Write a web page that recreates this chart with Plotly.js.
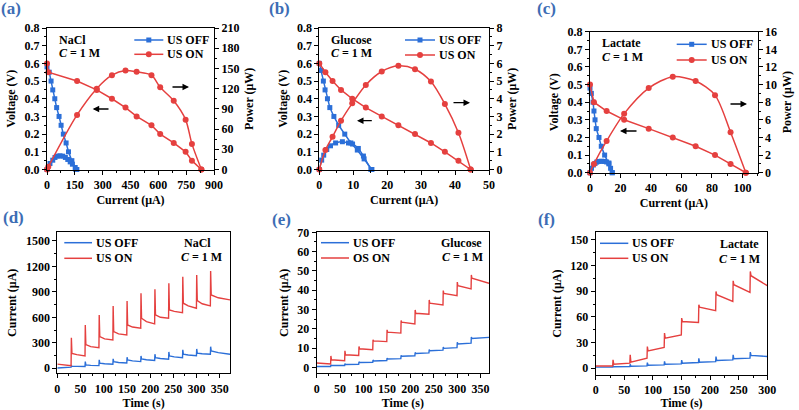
<!DOCTYPE html>
<html>
<head>
<meta charset="utf-8">
<script src="https://cdn.plot.ly/plotly-3.0.1.min.js"></script>
<style>
  html, body { margin: 0; padding: 0; background: #fff; }
  #chart { width: 799px; height: 410px; }
</style>
</head>
<body>
<div id="chart"></div>
<script>
// ---------- Polarization data: current (μA), voltage (V), power (μW) ----------
// (a) NaCl
const naclOffI  = [0, 12, 22, 31, 42, 52, 65, 76, 88, 103, 116, 134, 155];
const naclOffV  = [0.58, 0.55, 0.50, 0.45, 0.40, 0.35, 0.30, 0.25, 0.20, 0.15, 0.10, 0.05, 0.00];
const naclOffPI = [0, 16, 31, 43, 56, 70, 85, 99, 112, 125, 137, 152, 161];
const naclOffP  = [0, 8.9, 13.8, 17.9, 19.8, 20.3, 19.8, 17.9, 14.9, 11.3, 7.9, 3.0, 0];
const naclOnI   = [0, 7, 162, 268, 350, 423, 483, 563, 610, 683, 747, 781, 832];
const naclOnV   = [0.60, 0.55, 0.50, 0.45, 0.40, 0.35, 0.30, 0.25, 0.20, 0.15, 0.10, 0.05, 0.00];
const naclOnP   = [0, 3.9, 81, 120, 140, 147, 145, 140, 122, 102, 74, 38, 0];

// (b) Glucose
const gluOffI  = [0, 0.5, 1.2, 1.7, 2.4, 3.1, 4.3, 5.7, 7.5, 9.3, 11.2, 13.2, 15.5];
const gluOffV  = [0.60, 0.56, 0.50, 0.45, 0.40, 0.35, 0.30, 0.25, 0.20, 0.15, 0.11, 0.06, 0.00];
const gluOffPI = [0, 0.7, 1.3, 2.2, 3.3, 4.8, 6.8, 8.6, 9.8, 11.5, 13.0, 15.2];
const gluOffP  = [0, 0.53, 0.81, 1.13, 1.34, 1.50, 1.57, 1.50, 1.44, 1.19, 0.76, 0];
const gluOnI   = [0, 1.8, 3.9, 6.4, 9.7, 13.7, 18.4, 23.3, 28.2, 32.9, 37.0, 41.0, 44.6];
const gluOnV   = [0.60, 0.55, 0.50, 0.45, 0.40, 0.35, 0.30, 0.25, 0.20, 0.15, 0.10, 0.05, 0.00];
const gluOnP   = [0, 1.10, 1.85, 2.76, 3.74, 4.78, 5.54, 5.86, 5.67, 4.97, 3.70, 2.08, 0];

// (c) Lactate
const lacOffI  = [0, 0.9, 2.0, 2.6, 3.3, 4.1, 5.9, 7.4, 9.6, 12.4, 14.6];
const lacOffV  = [0.48, 0.45, 0.40, 0.35, 0.30, 0.25, 0.20, 0.15, 0.10, 0.05, 0.00];
const lacOffPI = [0, 1.0, 2.2, 3.3, 4.4, 6.0, 7.6, 9.2, 10.9, 12.4, 13.5, 14.6];
const lacOffP  = [0, 0.50, 0.87, 1.05, 1.20, 1.28, 1.30, 1.28, 1.22, 1.10, 0.50, 0];
const lacOnI   = [0, 2.6, 10.9, 22.4, 38.5, 54.3, 69.3, 82.0, 92.2, 102.2];
const lacOnV   = [0.50, 0.40, 0.35, 0.30, 0.25, 0.20, 0.15, 0.10, 0.05, 0.00];
const lacOnP   = [0, 1.0, 3.6, 6.7, 9.6, 10.9, 10.4, 8.8, 4.6, 0];

// ---------- Current response to successive additions (every 30 s) ----------
// per interval: spike at the addition, level just after, mid-interval level, level before next addition
const naclT       = [0, 30, 60, 90, 120, 150, 180, 210, 240, 270, 300, 330];
const naclOnPeak  = [null, 360, 510, 628, 733, 793, 883, 930, 1001, 1079, 1099, 1146];
const naclOnStart = [48, 175, 278, 372, 431, 510, 589, 628, 687, 766, 796, 863];
const naclOnMid   = [40, 160, 255, 345, 405, 485, 550, 600, 670, 735, 760, 830];
const naclOnEnd   = [30, 145, 243, 333, 392, 471, 522, 589, 655, 707, 734, 805];
const naclOffPeak  = [null, 30, 78, 98, 110, 130, 145, 165, 192, 216, 227, 254];
const naclOffStart = [2, 25, 39, 59, 78, 98, 110, 125, 145, 165, 177, 204];
const naclOffMid   = [8, 22, 34, 52, 68, 86, 99, 114, 134, 155, 170, 183];
const naclOffEnd   = [12, 20, 31, 47, 62, 78, 90, 106, 125, 148, 165, 165];

const gluT        = [0, 30, 60, 90, 120, 150, 180, 210, 240, 270, 300, 330];
const gluOnPeak   = [null, 6.0, 8.6, 10.9, 14.3, 19.5, 24.3, 29.8, 35.0, 39.8, 44.2, 47.9];
const gluOnStart  = [2.3, 4.0, 6.6, 9.7, 13.8, 18.3, 23.5, 28.1, 33.3, 38.4, 42.3, 46.2];
const gluOnEnd    = [1.8, 3.5, 6.2, 9.2, 13.4, 17.8, 22.6, 27.6, 32.4, 37.2, 40.7, 43.6];
const gluOffPeak  = [null, 1.3, 2.0, 3.0, 3.9, 4.9, 6.3, 7.8, 9.3, 10.6, 13.1, 15.8];
const gluOffStart = [0.5, 1.0, 1.6, 2.6, 3.4, 4.4, 5.8, 7.3, 8.7, 9.9, 12.2, 15.0];
const gluOffEnd   = [0.5, 1.0, 1.7, 2.7, 3.6, 4.6, 6.1, 7.6, 9.0, 10.3, 12.6, 15.6];

const lacT        = [0, 30, 60, 90, 120, 150, 180, 210, 240, 270];
const lacOnPeak   = [null, 9.7, 15.6, 25.3, 41.0, 58.6, 74.2, 89.8, 102.3, 113.2];
const lacOnStart  = [2.5, 4.7, 7.0, 20.3, 35.2, 54.6, 71.5, 85.9, 97.7, 108.2];
const lacOnEnd    = [2.5, 5.9, 11.7, 24.2, 39.0, 53.5, 67.2, 78.1, 88.6, 96.5];
const lacOffPeak  = [null, 3.0, 4.5, 6.5, 8.0, 9.5, 11.5, 13.5, 15.5, 18.8];
const lacOffStart = [1.2, 1.6, 2.3, 3.4, 4.5, 5.8, 7.0, 9.0, 11.0, 15.0];
const lacOffEnd   = [1.2, 1.9, 2.7, 3.9, 5.0, 6.6, 7.7, 9.7, 11.7, 13.6];

// ---------- styling ----------
const FONT = 'Liberation Serif, Times New Roman, serif';
const BLUE = '#2b6fd8';
const RED = '#e5403f';
const LABEL_BLUE = '#3d6db5';
const W = 799, H = 410;
const fx = p => p / W;
const fy = p => 1 - p / H;
const bold = (size, color) => ({family: FONT, size: size, color: color || '#000', weight: 'bold'});

// Turn per-interval levels into a polyline (vertical spike at each addition time)
function stepSeries(times, tEnd, peak, start, mid, end) {
  const x = [], y = [];
  for (let k = 0; k < times.length; k++) {
    const t0 = times[k];
    const t1 = k + 1 < times.length ? times[k + 1] : tEnd;
    if (peak[k] === null) { x.push(t0); y.push(start[k]); }
    else { x.push(t0 + 0.3, t0 + 1.5); y.push(peak[k], start[k]); }
    if (mid) { x.push(t0 + (t1 - t0) * 0.4); y.push(mid[k]); }
    x.push(k + 1 < times.length ? t1 - 0.3 : t1); y.push(end[k]);
  }
  return {x, y};
}

const traces = [];
function ivPanel(xa, ya, ya2, offI, offV, offPI, offP, onI, onV, onP) {
  const common = {xaxis: xa, showlegend: false, mode: 'lines+markers', cliponaxis: false};
  traces.push(Object.assign({x: offI, y: offV, yaxis: ya, name: 'US OFF',
    line: {color: BLUE, width: 1.5}, marker: {symbol: 'square', size: 5, color: BLUE}}, common));
  traces.push(Object.assign({x: onI, y: onV, yaxis: ya, name: 'US ON',
    line: {color: RED, width: 1.5}, marker: {symbol: 'circle', size: 6, color: RED}}, common));
  traces.push(Object.assign({x: offPI, y: offP, yaxis: ya2, name: 'US OFF',
    line: {color: BLUE, width: 1.5, shape: 'spline', smoothing: 0.8},
    marker: {symbol: 'square', size: 5, color: BLUE}}, common));
  traces.push(Object.assign({x: onI, y: onP, yaxis: ya2, name: 'US ON',
    line: {color: RED, width: 1.5, shape: 'spline', smoothing: 0.8},
    marker: {symbol: 'circle', size: 6, color: RED}}, common));
}
ivPanel('x', 'y', 'y2', naclOffI, naclOffV, naclOffPI, naclOffP, naclOnI, naclOnV, naclOnP);
ivPanel('x2', 'y3', 'y4', gluOffI, gluOffV, gluOffPI, gluOffP, gluOnI, gluOnV, gluOnP);
ivPanel('x3', 'y5', 'y6', lacOffI, lacOffV, lacOffPI, lacOffP, lacOnI, lacOnV, lacOnP);

function timePanel(xa, ya, onName, off, on) {
  traces.push({x: off.x, y: off.y, xaxis: xa, yaxis: ya, name: 'US OFF', showlegend: false,
    mode: 'lines', line: {color: BLUE, width: 1.4}});
  traces.push({x: on.x, y: on.y, xaxis: xa, yaxis: ya, name: onName, showlegend: false,
    mode: 'lines', line: {color: RED, width: 1.4}});
}
timePanel('x4', 'y7', 'US ON',
  stepSeries(naclT, 372, naclOffPeak, naclOffStart, naclOffMid, naclOffEnd),
  stepSeries(naclT, 372, naclOnPeak, naclOnStart, naclOnMid, naclOnEnd));
timePanel('x5', 'y8', 'OS ON',
  stepSeries(gluT, 368, gluOffPeak, gluOffStart, null, gluOffEnd),
  stepSeries(gluT, 368, gluOnPeak, gluOnStart, null, gluOnEnd));
timePanel('x6', 'y9', 'US ON',
  stepSeries(lacT, 300, lacOffPeak, lacOffStart, null, lacOffEnd),
  stepSeries(lacT, 300, lacOnPeak, lacOnStart, null, lacOnEnd));

// ---------- axes ----------
function axis(o) {
  const a = {
    domain: o.domain, anchor: o.anchor, range: o.range, dtick: o.dtick, tick0: 0,
    ticks: 'outside', ticklen: 4, tickwidth: 1, tickcolor: '#000',
    minor: {ticks: 'outside', ticklen: 2, tickwidth: 1, tickcolor: '#000', dtick: o.dtick / 2, showgrid: false},
    showline: true, linecolor: '#000', linewidth: 1, mirror: o.mirror,
    showgrid: false, zeroline: false, tickfont: bold(12), automargin: false,
    fixedrange: true
  };
  if (o.format) a.tickformat = o.format;
  if (o.title) a.title = {text: o.title, font: bold(12), standoff: o.standoff};
  if (o.side) a.side = o.side;
  if (o.overlaying) { a.overlaying = o.overlaying; delete a.domain; }
  return a;
}
const dx = (a, b) => [fx(a), fx(b)];
const dy = (top, bot) => [fy(bot), fy(top)];

const layout = {
  width: W, height: H,
  margin: {l: 0, r: 0, t: 0, b: 0},
  paper_bgcolor: '#fff', plot_bgcolor: 'rgba(0,0,0,0)',
  font: {family: FONT, size: 12, color: '#000'},
  showlegend: false,
  // (a)
  xaxis:  axis({domain: dx(47, 214), anchor: 'y', range: [0, 900], dtick: 150, mirror: true, title: 'Current (μA)', standoff: 4}),
  yaxis:  axis({domain: dy(28, 169.5), anchor: 'x', range: [0, 0.8], dtick: 0.1, format: '.1f', mirror: false, title: 'Voltage (V)', standoff: 6}),
  yaxis2: axis({overlaying: 'y', anchor: 'x', side: 'right', range: [0, 210], dtick: 30, mirror: false, title: 'Power (μW)', standoff: 6}),
  // (b)
  xaxis2: axis({domain: dx(319.3, 489), anchor: 'y3', range: [0, 50], dtick: 10, mirror: true, title: 'Current (μA)', standoff: 4}),
  yaxis3: axis({domain: dy(28, 169.5), anchor: 'x2', range: [0, 0.8], dtick: 0.1, format: '.1f', mirror: false, title: 'Voltage (V)', standoff: 6}),
  yaxis4: axis({overlaying: 'y3', anchor: 'x2', side: 'right', range: [0, 8], dtick: 1, mirror: false, title: 'Power (μW)', standoff: 6}),
  // (c)
  xaxis3: axis({domain: dx(590, 757.7), anchor: 'y5', range: [0, 110], dtick: 20, mirror: true, title: 'Current (μA)', standoff: 4}),
  yaxis5: axis({domain: dy(31.7, 172.7), anchor: 'x3', range: [0, 0.8], dtick: 0.1, format: '.1f', mirror: false, title: 'Voltage (V)', standoff: 6}),
  yaxis6: axis({overlaying: 'y5', anchor: 'x3', side: 'right', range: [0, 16], dtick: 2, mirror: false, title: 'Power (μW)', standoff: 6}),
  // (d)
  xaxis4: axis({domain: dx(57.3, 230), anchor: 'y7', range: [0, 372], dtick: 50, mirror: true, title: 'Time (s)', standoff: 4}),
  yaxis7: axis({domain: dy(232.3, 373.3), anchor: 'x4', range: [-60, 1602], dtick: 300, mirror: true, title: 'Current (μA)', standoff: 6}),
  // (e)
  xaxis5: axis({domain: dx(316.7, 489), anchor: 'y8', range: [0, 368], dtick: 50, mirror: true, title: 'Time (s)', standoff: 4}),
  yaxis8: axis({domain: dy(232.3, 373.3), anchor: 'x5', range: [-3, 70], dtick: 10, mirror: true, title: 'Current (μA)', standoff: 6}),
  // (f)
  xaxis6: axis({domain: dx(595.7, 767.3), anchor: 'y9', range: [0, 300], dtick: 50, mirror: true, title: 'Time (s)', standoff: 4}),
  yaxis9: axis({domain: dy(232.3, 375), anchor: 'x6', range: [-8, 159], dtick: 30, mirror: true, title: 'Current (μA)', standoff: 6}),
  annotations: [],
  shapes: [],
};

// ---------- legend keys (line sample, optional marker, label) ----------
function legendKey(x1, x2, y, color, label, marker) {
  layout.shapes.push({type: 'line', xref: 'paper', yref: 'paper',
    x0: fx(x1), x1: fx(x2), y0: fy(y), y1: fy(y), line: {color: color, width: 1.5}});
  if (marker) {
    const cx = (x1 + x2) / 2, r = marker === 'square' ? 2.5 : 3;
    layout.shapes.push({type: marker === 'square' ? 'rect' : 'circle', xref: 'paper', yref: 'paper',
      x0: fx(cx - r), x1: fx(cx + r), y0: fy(y + r), y1: fy(y - r),
      fillcolor: color, line: {color: color, width: 0}});
  }
  layout.annotations.push({text: label, x: fx(x2 + 2), y: fy(y), xref: 'paper', yref: 'paper',
    showarrow: false, xanchor: 'left', yanchor: 'middle', font: bold(12)});
}
// top row: [line start, line end, row 1 y, row 2 y]
[[134.3, 163.3, 40, 54.3], [405, 435, 40, 55], [676.7, 706.7, 44.3, 60]].forEach(([a, b, y1, y2]) => {
  legendKey(a, b, y1, BLUE, 'US OFF', 'square');
  legendKey(a, b, y2, RED, 'US ON', 'circle');
});
[[64.3, 92, 242.7, 258.3, 'US ON'], [321, 349, 242.7, 258, 'OS ON'], [600, 628.3, 243.3, 258.3, 'US ON']]
  .forEach(([a, b, y1, y2, onLabel]) => {
    legendKey(a, b, y1, BLUE, 'US OFF', null);
    legendKey(a, b, y2, RED, onLabel, null);
  });

// panel letters
[['(a)', 11, 8], ['(b)', 279, 8], ['(c)', 546.7, 8.3],
 ['(d)', 13.3, 217.5], ['(e)', 281, 219], ['(f)', 546, 219.7]].forEach(([t, x, y]) => {
  layout.annotations.push({text: t, x: fx(x), y: fy(y), xref: 'paper', yref: 'paper',
    showarrow: false, xanchor: 'center', yanchor: 'middle', font: bold(17, LABEL_BLUE)});
});

// electrolyte / concentration labels
const note = (t, x, y, anchor) => layout.annotations.push({text: t, x: fx(x), y: fy(y),
  xref: 'paper', yref: 'paper', showarrow: false, xanchor: anchor, yanchor: 'middle', font: bold(12)});
note('NaCl', 57, 40, 'left');       note('<i>C</i> = 1 M', 57, 53.3, 'left');
note('Glucose', 329.3, 40, 'left'); note('<i>C</i> = 1 M', 329.3, 53.3, 'left');
note('Lactate', 600, 43.3, 'left'); note('<i>C</i> = 1 M', 600, 57.3, 'left');
note('NaCl', 197, 242.7, 'center');    note('<i>C</i> = 1 M', 201, 257.3, 'center');
note('Glucose', 461, 243.3, 'center'); note('<i>C</i> = 1 M', 462, 257.3, 'center');
note('Lactate', 739.7, 244, 'center'); note('<i>C</i> = 1 M', 739, 258.7, 'center');

// arrows pointing to the axis each curve belongs to
const arrow = (hx, hy, ax) => layout.annotations.push({text: '', x: fx(hx), y: fy(hy),
  xref: 'paper', yref: 'paper', showarrow: true, ax: ax, ay: 0,
  arrowhead: 2, arrowsize: 1, arrowwidth: 1.3, arrowcolor: '#000'});
arrow(92.7, 109, 17.3);  arrow(189, 87, -18);
arrow(357, 120.7, 16.3); arrow(470, 102.7, -18);
arrow(620, 131, 18);     arrow(747, 104, -18);

Plotly.newPlot('chart', traces, layout, {displayModeBar: false, staticPlot: true});
</script>
</body>
</html>
